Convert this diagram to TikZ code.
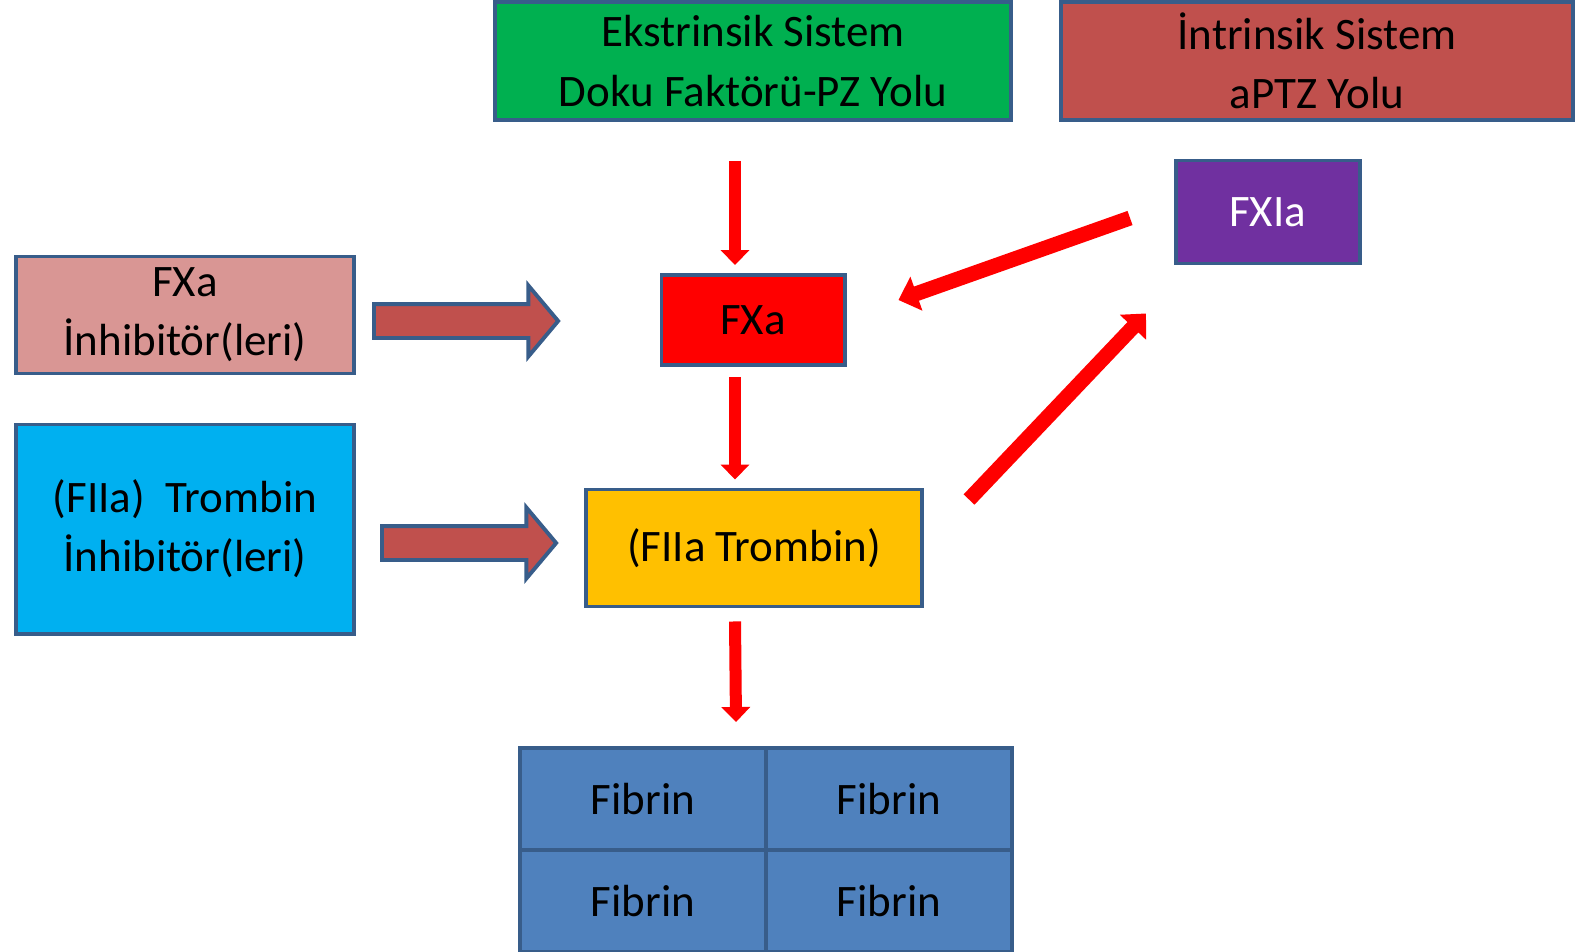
\documentclass[tikz,border=0pt]{standalone}
\usepackage{fontspec}
\setmainfont{Carlito}
\usetikzlibrary{arrows.meta,shapes.arrows}

\definecolor{edge}{RGB}{56,93,138}
\definecolor{extgreen}{RGB}{0,176,80}
\definecolor{intred}{RGB}{192,80,77}
\definecolor{fxipurple}{RGB}{112,48,160}
\definecolor{inhpink}{RGB}{217,150,148}
\definecolor{fxared}{RGB}{255,0,0}
\definecolor{trbyellow}{RGB}{255,192,0}
\definecolor{trbblue}{RGB}{0,176,240}
\definecolor{fibblue}{RGB}{79,129,189}

\begin{document}
\begin{tikzpicture}[x=0.01cm, y=-0.01cm,
    every node/.style={font=\fontsize{12.8}{16.8}\selectfont},
    box/.style={rectangle, draw=edge, line width=1.1pt, align=center, inner sep=0pt},
    cell/.style={box, fill=fibblue, minimum width=2.46cm, minimum height=1.02cm},
    redarrow/.style={draw=fxared, line width=0.12cm, -{Triangle[length=0.15cm, width=0.28cm]}},
    bigredarrow/.style={draw=fxared, line width=0.15cm, -{Triangle[length=0.19cm, width=0.35cm]}},
    blockarrow/.style={single arrow, draw=edge, fill=intred, line width=1.1pt,
        inner xsep=0pt, inner ysep=0.15cm,
        minimum height=1.84cm, minimum width=0.69cm, single arrow head extend=0.185cm,
        single arrow tip angle=100}]
    \useasboundingbox (0,0) rectangle (1576,951);

    % Nodes
    \node[box, fill=extgreen, minimum width=5.16cm, minimum height=1.18cm] (ext) at (753,61)
        {Ekstrinsik Sistem\\Doku Faktörü-PZ Yolu};
    \node[box, fill=intred, minimum width=5.12cm, minimum height=1.18cm] (int) at (1317,61)
        {İntrinsik Sistem\\aPTZ Yolu};
    \node[box, fill=fxipurple, text=white, minimum width=1.84cm, minimum height=1.03cm] (fxia) at (1268,212)
        {FXIa};
    \node[box, fill=inhpink, minimum width=3.37cm, minimum height=1.17cm] (inhA) at (185,315)
        {FXa\\İnhibitör(leri)};
    \node[box, fill=fxared, minimum width=1.83cm, minimum height=0.90cm] (fxa) at (753,320)
        {FXa};
    \node[box, fill=trbblue, minimum width=3.37cm, minimum height=2.09cm] (inhT) at (185,529)
        {(FIIa)~~Trombin\\İnhibitör(leri)};
    \node[box, fill=trbyellow, minimum width=3.36cm, minimum height=1.17cm] (trombin) at (754,548)
        {(FIIa Trombin)};
    \node[cell] (fib11) at (643,799) {Fibrin};
    \node[cell] (fib12) at (889,799) {Fibrin};
    \node[cell] (fib21) at (643,901) {Fibrin};
    \node[cell] (fib22) at (889,901) {Fibrin};

    % Block arrows
    \node[blockarrow] (arrA) at (459,321) {};
    \node[blockarrow, minimum height=1.74cm] (arrT) at (462,543) {};

    % Edges
    \draw[redarrow] ([shift={(-18,39)}]ext.south) -- ([shift={(-18,-8)}]fxa.north);
    \draw[redarrow] ([shift={(-18,10)}]fxa.south) -- ([shift={(-19,-8)}]trombin.north);
    \draw[redarrow] ([shift={(-19,13)}]trombin.south) -- ([shift={(-32,-24)}]fib11.north east);
    \draw[bigredarrow] ([shift={(-44,6)}]fxia.west) -- ([shift={(52,-20)}]fxa.east);
    \draw[bigredarrow] ([shift={(45,12)}]trombin.north east) -- ([shift={(-28,48)}]fxia.south west);
\end{tikzpicture}
\end{document}
